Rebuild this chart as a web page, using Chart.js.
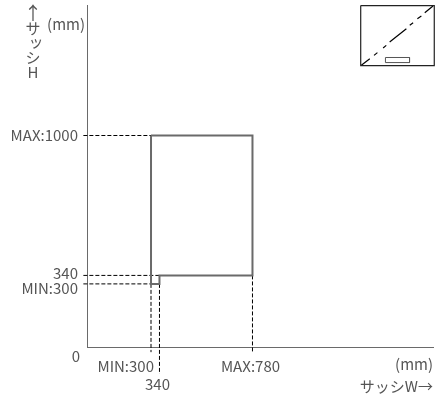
<!DOCTYPE html>
<html><head><meta charset="utf-8">
<style>html,body{margin:0;padding:0;background:#fff}#w{position:relative;width:435px;height:396px}canvas{display:block}</style>
<script src="https://cdn.jsdelivr.net/npm/chart.js@4/dist/chart.umd.min.js"></script>
</head><body><div id="w"><canvas id="c" width="435" height="396"></canvas></div>
<script>
const widths = [300, 340, 780];
const heights = [300, 340, 1000];
const xTickLabels = ['MIN:300', '340', 'MAX:780'];
const yTickLabels = ['MIN:300', '340', 'MAX:1000'];
const zeroLabel = '0';
const xUnit = '(mm)';
const yUnit = '(mm)';
const xTitle = 'サッシW→';
const yTitleChars = ['↑', 'サ', 'ッ', 'シ', 'H'];
const regionX = [300, 780, 780, 340, 340, 300, 300];
const regionY = [1000, 1000, 340, 340, 300, 300, 1000];
const insetBoxX = [1292, 1640, 1640, 1292, 1292];
const insetBoxY = [1613, 1613, 1330, 1330, 1613];
const insetBarX = [1409, 1523, 1523, 1409, 1409];
const insetBarY = [1368, 1368, 1344, 1344, 1368];
const insetDiagX = [1295, 1335, null, 1355, 1371, null, 1398, 1413, null, 1429, 1508, null, 1524, 1540, null, 1560, 1579, null, 1595, 1634];
const insetDiagY = [1331, 1362, null, 1378, 1391, null, 1413, 1425, null, 1441, 1504, null, 1520, 1532, null, 1551, 1564, null, 1579, 1611];
const guideEndBelowX = [-22, -125, -22];
const guideStartLeft = -20;

const zip = (xs, ys) => xs.map((x, i) => ({x, y: ys[i]}));
const GREY = '#6a6a6a', INK = '#000', TEXT = '#555';
const guide = data => ({data, showLine: true, pointRadius: 0, borderColor: INK, borderWidth: 1, borderDash: [4, 2], clip: false, order: 2});
const solid = (data, color, w) => ({data, showLine: true, pointRadius: 0, borderColor: color, borderWidth: w, clip: false, spanGaps: false, tension: 0, order: 1});
const datasets = [
  solid(zip(regionX, regionY), GREY, 2),
  guide([{x: widths[0], y: heights[0]}, {x: widths[0], y: guideEndBelowX[0]}]),
  guide([{x: widths[1], y: heights[0]}, {x: widths[1], y: guideEndBelowX[1]}]),
  guide([{x: widths[2], y: heights[1]}, {x: widths[2], y: guideEndBelowX[2]}]),
  guide([{x: guideStartLeft, y: heights[0]}, {x: widths[0], y: heights[0]}]),
  guide([{x: guideStartLeft, y: heights[1]}, {x: widths[1], y: heights[1]}]),
  guide([{x: guideStartLeft, y: heights[2]}, {x: widths[0], y: heights[2]}]),
  solid(zip(insetBoxX, insetBoxY), '#222', 1.2),
  solid(zip(insetBarX, insetBarY), '#555', 1),
  solid(zip(insetDiagX, insetDiagY), INK, 1.2)
];
const labels = {
  id: 'labels',
  afterDraw(chart) {
    const {ctx, scales: {x, y}} = chart;
    ctx.save();
    ctx.fillStyle = TEXT;
    ctx.font = '15px "Noto Sans CJK JP"';
    ctx.textBaseline = 'middle';
    const put = (t, px, py, a) => { ctx.textAlign = a; ctx.fillText(t, px, py); };
    put(yTickLabels[2], 78, y.getPixelForValue(heights[2]), 'right');
    put(yTickLabels[1], 78, y.getPixelForValue(heights[1]) - 2, 'right');
    put(yTickLabels[0], 78, y.getPixelForValue(heights[0]) + 4, 'right');
    put(zeroLabel, 76, y.getPixelForValue(0) + 9, 'center');
    put(xTickLabels[0], x.getPixelForValue(widths[0]) + 3, 366, 'right');
    put(xTickLabels[1], x.getPixelForValue(widths[1]) - 2, 384, 'center');
    put(xTickLabels[2], x.getPixelForValue(widths[2]) - 2, 366, 'center');
    put(xUnit, 433, 364, 'right');
    put(xTitle, 433, 386, 'right');
    put(yUnit, 85, 24, 'right');
    const ys = [13, 28, 41, 57, 72];
    yTitleChars.forEach((c, i) => {
      ctx.font = (i === 0 ? '18px' : '15px') + ' "Noto Sans CJK JP"';
      put(c, i === 2 ? 36 : 33, ys[i], 'center');
    });
    ctx.restore();
  }
};
new Chart(document.getElementById('c'), {
  type: 'scatter',
  data: {datasets},
  plugins: [labels],
  options: {
    responsive: false, animation: false, events: [],
    layout: {padding: {left: 87.6, right: 2, top: 5, bottom: 48.5}},
    plugins: {legend: {display: false}, tooltip: {enabled: false}},
    scales: {
      x: {type: 'linear', min: 0, max: 1634, grid: {display: false, drawTicks: false}, border: {color: GREY, width: 1}, ticks: {display: false}},
      y: {type: 'linear', min: 0, max: 1615.6, grid: {display: false, drawTicks: false}, border: {color: GREY, width: 1}, ticks: {display: false}}
    }
  }
});
</script></body></html>
